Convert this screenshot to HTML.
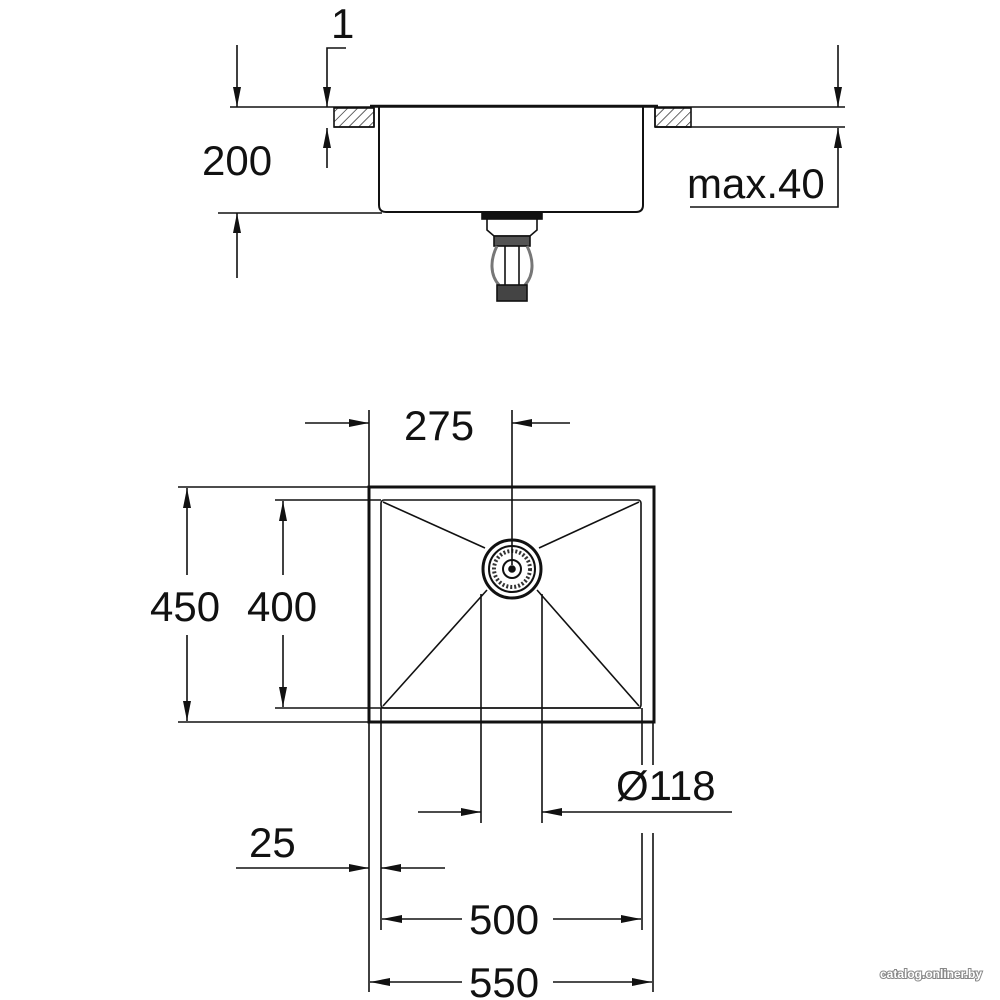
<!DOCTYPE html>
<html><head><meta charset="utf-8"><style>
html,body{margin:0;padding:0;background:#fff;width:1000px;height:1000px;overflow:hidden}
text{font-family:"Liberation Sans",sans-serif;fill:#111}
</style></head><body>
<svg width="1000" height="1000" viewBox="0 0 1000 1000" xmlns="http://www.w3.org/2000/svg">
<defs>
<marker id="a" viewBox="0 0 20 8" refX="20" refY="4" markerWidth="20" markerHeight="8" markerUnits="userSpaceOnUse" orient="auto"><path d="M0,0 L20,4 L0,8 Z" fill="#111"/></marker>
<pattern id="h" width="7" height="7" patternUnits="userSpaceOnUse" patternTransform="rotate(45)"><line x1="0" y1="0" x2="0" y2="7" stroke="#111" stroke-width="1.3"/></pattern>
</defs>
<g stroke="#111" stroke-width="1.6" fill="none">
<line x1="230" y1="107" x2="845" y2="107"/>
<line x1="655" y1="127" x2="845" y2="127"/>
<rect x="334" y="108" width="40" height="19" fill="url(#h)"/>
<rect x="655" y="108" width="36" height="19" fill="url(#h)"/>
<line x1="334" y1="127" x2="374" y2="127"/>
<line x1="655" y1="127" x2="691" y2="127"/>
<line x1="374" y1="108" x2="374" y2="127"/>
<line x1="655" y1="108" x2="655" y2="127"/>
<line x1="370" y1="106" x2="658" y2="106" stroke-width="2.5"/>
<path d="M379,107 V205 Q379,212 386,212 H636 Q643,212 643,205 V107" stroke-width="2"/>
<line x1="218" y1="213" x2="382" y2="213"/>
<rect x="482" y="213" width="60" height="6" fill="#111"/>
<path d="M487,219 V230 L494,236 H530 L537,230 V219"/>
<rect x="494" y="236" width="36" height="10" fill="#555"/>
<path d="M497,246 C490,260 490,275 499,285 M527,246 C534,260 534,275 525,285" stroke-width="3" stroke="#777"/>
<line x1="505" y1="246" x2="505" y2="285"/><line x1="519" y1="246" x2="519" y2="285"/>
<rect x="497" y="285" width="30" height="16" fill="#444"/>
<line x1="237" y1="45" x2="237" y2="107" marker-end="url(#a)"/>
<line x1="237" y1="278" x2="237" y2="213" marker-end="url(#a)"/>
<polyline points="346,48 327,48 327,107" marker-end="url(#a)"/>
<line x1="327" y1="168" x2="327" y2="128" marker-end="url(#a)"/>
<line x1="838" y1="45" x2="838" y2="107" marker-end="url(#a)"/>
<polyline points="690,207 838,207 838,128" marker-end="url(#a)"/>

<rect x="369" y="487" width="285" height="235" stroke-width="3"/>
<rect x="381" y="500" width="260" height="208" rx="3"/>
<line x1="381" y1="708" x2="641" y2="708"/>
<line x1="383" y1="502" x2="485" y2="548"/>
<line x1="639" y1="502" x2="539" y2="548"/>
<line x1="383" y1="706" x2="487" y2="590"/>
<line x1="639" y1="706" x2="537" y2="590"/>
<circle cx="512" cy="569" r="29" stroke-width="3"/>
<circle cx="512" cy="569" r="23" stroke-width="2"/>
<circle cx="512" cy="569" r="18" stroke-width="4" stroke-dasharray="2 2" stroke="#333"/>
<circle cx="512" cy="569" r="9" stroke-width="2"/>
<circle cx="512" cy="569" r="3" fill="#111"/>
<line x1="512" y1="410" x2="512" y2="565"/>
<line x1="369" y1="410" x2="369" y2="992"/>
<line x1="305" y1="423" x2="369" y2="423" marker-end="url(#a)"/>
<line x1="570" y1="423" x2="512" y2="423" marker-end="url(#a)"/>
<line x1="178" y1="487" x2="369" y2="487"/>
<line x1="178" y1="722" x2="369" y2="722"/>
<line x1="275" y1="500" x2="381" y2="500"/>
<line x1="275" y1="708" x2="381" y2="708"/>
<line x1="187" y1="575" x2="187" y2="488" marker-end="url(#a)"/>
<line x1="187" y1="635" x2="187" y2="721" marker-end="url(#a)"/>
<line x1="283" y1="575" x2="283" y2="501" marker-end="url(#a)"/>
<line x1="283" y1="635" x2="283" y2="707" marker-end="url(#a)"/>
<line x1="481" y1="594" x2="481" y2="823"/>
<line x1="542" y1="594" x2="542" y2="823"/>
<line x1="418" y1="812" x2="481" y2="812" marker-end="url(#a)"/>
<line x1="732" y1="812" x2="542" y2="812" marker-end="url(#a)"/>
<line x1="381" y1="708" x2="381" y2="930"/>
<line x1="642" y1="708" x2="642" y2="765"/>
<line x1="653" y1="722" x2="653" y2="765"/>
<line x1="642" y1="833" x2="642" y2="930"/>
<line x1="653" y1="833" x2="653" y2="992"/>
<line x1="236" y1="868" x2="369" y2="868" marker-end="url(#a)"/>
<line x1="445" y1="868" x2="381" y2="868" marker-end="url(#a)"/>
<line x1="462" y1="919" x2="382" y2="919" marker-end="url(#a)"/>
<line x1="553" y1="919" x2="641" y2="919" marker-end="url(#a)"/>
<line x1="462" y1="982" x2="370" y2="982" marker-end="url(#a)"/>
<line x1="553" y1="982" x2="652" y2="982" marker-end="url(#a)"/>
</g>
<g font-size="42">
<text x="331" y="38">1</text>
<text x="202" y="175">200</text>
<text x="687" y="198">max.40</text>
<text x="404" y="440">275</text>
<text x="150" y="621">450</text>
<text x="247" y="621">400</text>
<text x="616" y="800">Ø118</text>
<text x="249" y="857">25</text>
<text x="469" y="934">500</text>
<text x="469" y="997">550</text>
</g>
<text x="880" y="978" font-size="12" font-weight="bold" style="fill:#fff;stroke:#888;stroke-width:2;paint-order:stroke">catalog.onliner.by</text>
</svg>
</body></html>
